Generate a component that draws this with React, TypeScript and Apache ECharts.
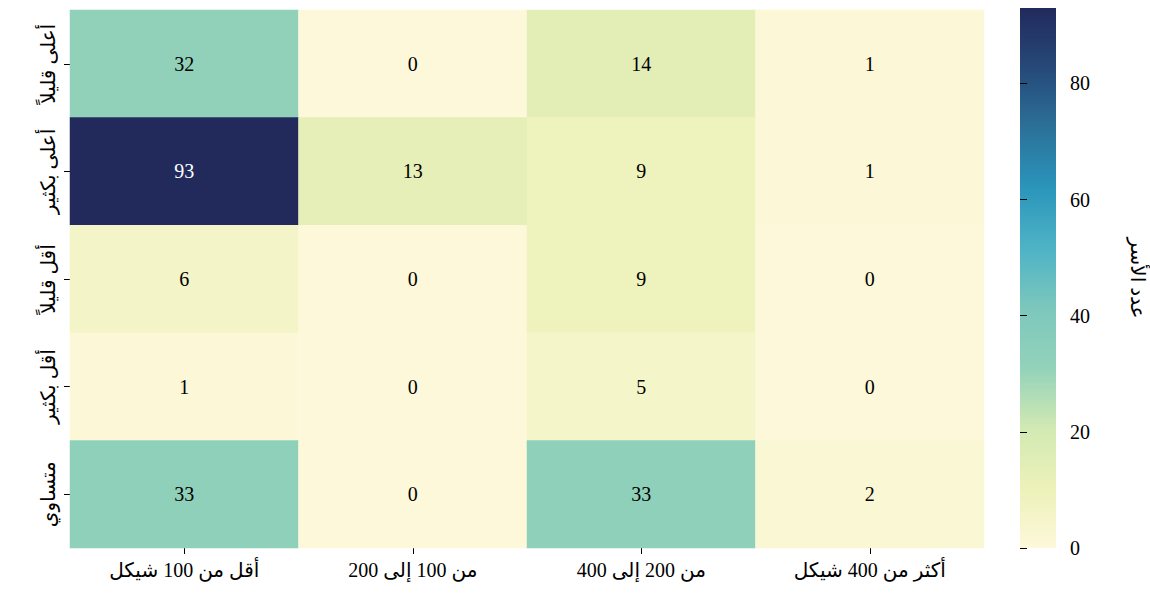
import React, { useEffect, useRef } from "react";
import * as echarts from "echarts";

const xCategories = ["أقل من 100 شيكل", "من 100 إلى 200", "من 200 إلى 400", "أكثر من 400 شيكل"];
const yCategories = ["أعلى قليلاً", "أعلى بكثير", "أقل قليلاً", "أقل بكثير", "متساوي"];
const rowHigherSlightly = [32, 0, 14, 1];
const rowHigherMuch = [93, 13, 9, 1];
const rowLowerSlightly = [6, 0, 9, 0];
const rowLowerMuch = [1, 0, 5, 0];
const rowEqual = [33, 0, 33, 2];
const rows = [rowHigherSlightly, rowHigherMuch, rowLowerSlightly, rowLowerMuch, rowEqual];
const colorbarTicks = [0, 20, 40, 60, 80];
const valueMin = 0;
const valueMax = 93;
const colorbarTitle = "عدد الأسر";

const palette = [
  "#fdf8da",
  "#ecf1b9",
  "#d2e9b3",
  "#93d2ba",
  "#7cc7bc",
  "#4db3c6",
  "#2b95bb",
  "#2b7199",
  "#264979",
  "#222a5c",
];

const FONT = "'Liberation Serif', 'DejaVu Serif', 'DejaVu Sans', serif";

export default function App() {
  const ref = useRef<HTMLDivElement>(null);
  useEffect(() => {
    if (!ref.current) return;
    const chart = echarts.init(ref.current, null, { renderer: "svg" });
    const data: any[] = [];
    rows.forEach((row, yi) => {
      row.forEach((v, xi) => {
        data.push({
          value: [xi, yi, v],
          label: { color: v > 60 ? "#ffffff" : "#000000" },
        });
      });
    });
    const cbLeft = 1020;
    const cbTop = 8;
    const cbWidth = 36;
    const cbHeight = 540;
    const n = palette.length;
    const stops = palette
      .slice()
      .reverse()
      .map((c, i) => ({ offset: i / (n - 1), color: c }));
    const option: any = {
      animation: false,
      textStyle: { fontFamily: FONT },
      grid: [
        { left: 70, top: 10, width: 914, height: 538 },
        { left: cbLeft, top: cbTop, width: cbWidth, height: cbHeight },
      ],
      xAxis: [
        {
          gridIndex: 0,
          type: "category",
          data: xCategories,
          position: "bottom",
          axisLine: { show: false },
          axisTick: { show: true, alignWithLabel: true, length: 6, lineStyle: { color: "#000" } },
          axisLabel: { fontSize: 20, color: "#000", margin: 12, interval: 0, fontFamily: FONT },
          splitLine: { show: false },
        },
        {
          gridIndex: 1,
          type: "value",
          show: false,
          min: 0,
          max: 1,
        },
      ],
      yAxis: [
        {
          gridIndex: 0,
          type: "category",
          data: yCategories,
          inverse: true,
          axisLine: { show: false },
          axisTick: { show: true, alignWithLabel: true, length: 6, lineStyle: { color: "#000" } },
          axisLabel: {
            fontSize: 20,
            color: "#000",
            rotate: 90,
            margin: 12,
            interval: 0,
            align: "center",
            verticalAlign: "bottom",
            fontFamily: FONT,
          },
          splitLine: { show: false },
        },
        {
          gridIndex: 1,
          type: "value",
          min: valueMin,
          max: valueMax,
          interval: 20,
          position: "right",
          axisLine: { show: false },
          axisTick: { show: true, length: 7, lineStyle: { color: "#000" }, customValues: colorbarTicks },
          axisLabel: {
            fontSize: 20,
            color: "#000",
            margin: 14,
            fontFamily: FONT,
            customValues: colorbarTicks,
          },
          splitLine: { show: false },
          name: colorbarTitle,
          nameLocation: "middle",
          nameRotate: -90,
          nameGap: 72,
          nameTextStyle: { fontSize: 20, color: "#000", fontFamily: FONT },
        },
      ],
      visualMap: {
        show: false,
        type: "continuous",
        min: valueMin,
        max: valueMax,
        dimension: 2,
        seriesIndex: 0,
        inRange: { color: palette },
      },
      graphic: [
        {
          type: "rect",
          left: cbLeft,
          top: cbTop,
          shape: { width: cbWidth, height: cbHeight },
          style: {
            fill: new echarts.graphic.LinearGradient(0, 0, 0, 1, stops),
          },
          z: 0,
        },
      ],
      series: [
        {
          type: "heatmap",
          xAxisIndex: 0,
          yAxisIndex: 0,
          data,
          label: { show: true, fontSize: 20, fontFamily: FONT },
          itemStyle: { borderWidth: 0 },
          emphasis: { disabled: true },
        },
      ],
    };
    chart.setOption(option);
    return () => chart.dispose();
  }, []);
  return <div ref={ref} style={{ width: 1150, height: 603, position: "absolute", left: 0, top: 0 }} />;
}
